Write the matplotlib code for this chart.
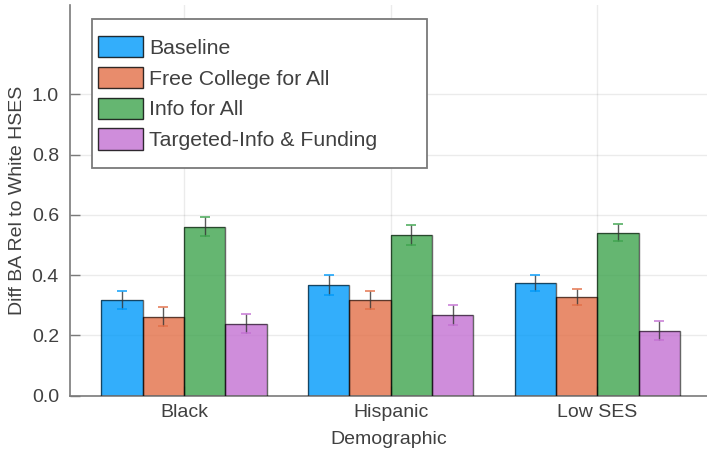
import matplotlib
matplotlib.use("Agg")
import matplotlib.pyplot as plt
from matplotlib.patches import Rectangle
import numpy as np

# Data
groups = ["Black", "Hispanic", "Low SES"]
series = ["Baseline", "Free College for All", "Info for All", "Targeted-Info & Funding"]
values = {
    "Baseline":                [0.317, 0.367, 0.374],
    "Free College for All":    [0.262, 0.317, 0.326],
    "Info for All":            [0.561, 0.532, 0.541],
    "Targeted-Info & Funding": [0.238, 0.267, 0.215],
}
errors = {
    "Baseline":                [0.031, 0.034, 0.027],
    "Free College for All":    [0.032, 0.030, 0.027],
    "Info for All":            [0.031, 0.033, 0.029],
    "Targeted-Info & Funding": [0.032, 0.034, 0.032],
}
yticks = [0.0, 0.2, 0.4, 0.6, 0.8, 1.0]
colors = ["#009AFA", "#E36F47", "#3EA44E", "#C371D2"]

plt.rcParams["font.family"] = ["Liberation Sans", "DejaVu Sans"]
text_color = "#404040"

W, H = 707, 450
fig = plt.figure(figsize=(W / 100, H / 100), dpi=100)
ax_top, ax_bottom = 5, 395.5
ax = fig.add_axes([70 / W, 1 - ax_bottom / H, (W - 70) / W, (ax_bottom - ax_top) / H])

x = np.arange(1, len(groups) + 1)
bar_w = 0.2
offsets = (np.arange(len(series)) - (len(series) - 1) / 2) * bar_w

for i, name in enumerate(series):
    xs = x + offsets[i]
    ax.bar(xs, values[name], width=bar_w, color=colors[i], alpha=0.8,
           edgecolor="none", zorder=2, label=name)
    ax.bar(xs, values[name], width=bar_w, facecolor="none",
           edgecolor=(0, 0, 0, 0.6), linewidth=1.0, zorder=3)
    _, caps, bars = ax.errorbar(xs, values[name], yerr=errors[name], fmt="none",
                                ecolor="#333333", elinewidth=1.0, capsize=3.3,
                                capthick=1.4, zorder=4)
    for c in caps:
        c.set_markeredgecolor(colors[i])
        c.set_alpha(0.75)
    for b in bars:
        b.set_alpha(0.8)

ax.set_xlim(0.448, 3.53)
ax.set_ylim(0, 1.297)
ax.set_xticks(x)
ax.set_xticklabels(groups)
ax.set_yticks(yticks)
ax.set_yticklabels([f"{v:.1f}" for v in yticks])

ax.grid(True, color="#000000", alpha=0.08, linewidth=1.0, zorder=0)
ax.set_axisbelow(True)
for side in ["top", "right"]:
    ax.spines[side].set_visible(False)
for side in ["left", "bottom"]:
    ax.spines[side].set_color("#7a7a7a")
    ax.spines[side].set_linewidth(1.2)

ax.tick_params(axis="both", direction="in", length=7, width=1.0,
               color="#7a7a7a", labelsize=14, labelcolor=text_color)
ax.tick_params(axis="y", pad=8)
ax.tick_params(axis="x", pad=6)

ax.set_xlabel("Demographic", fontsize=14, color=text_color, labelpad=7)
ax.set_ylabel("Diff BA Rel to White HSES", fontsize=14, color=text_color)
ax.yaxis.set_label_coords(18 / W, 1 - (ax_top + ax_bottom) / 2 / H,
                          transform=fig.transFigure)
ax.yaxis.label.set_verticalalignment("center")

# Legend with a hand-sized frame
leg = ax.legend(loc="upper left", bbox_to_anchor=(98 / W, 1 - 36 / H),
                bbox_transform=fig.transFigure, frameon=False,
                fontsize=15.3, handlelength=2.1, handleheight=1.17,
                handletextpad=0.3, labelspacing=0.42, borderpad=0,
                borderaxespad=0)
for t in leg.get_texts():
    t.set_color(text_color)
for p in leg.get_patches():
    p.set_edgecolor((0, 0, 0, 0.6))
    p.set_linewidth(1.0)

frame = Rectangle((92 / W, 1 - 168 / H), (427 - 92) / W, (168 - 18.5) / H,
                  transform=fig.transFigure, facecolor="white",
                  edgecolor="#7a7a7a", linewidth=1.3, zorder=5)
fig.add_artist(frame)
leg.set_zorder(6)
fig.add_artist(leg)

fig.savefig("out.png", dpi=100, facecolor="white")
